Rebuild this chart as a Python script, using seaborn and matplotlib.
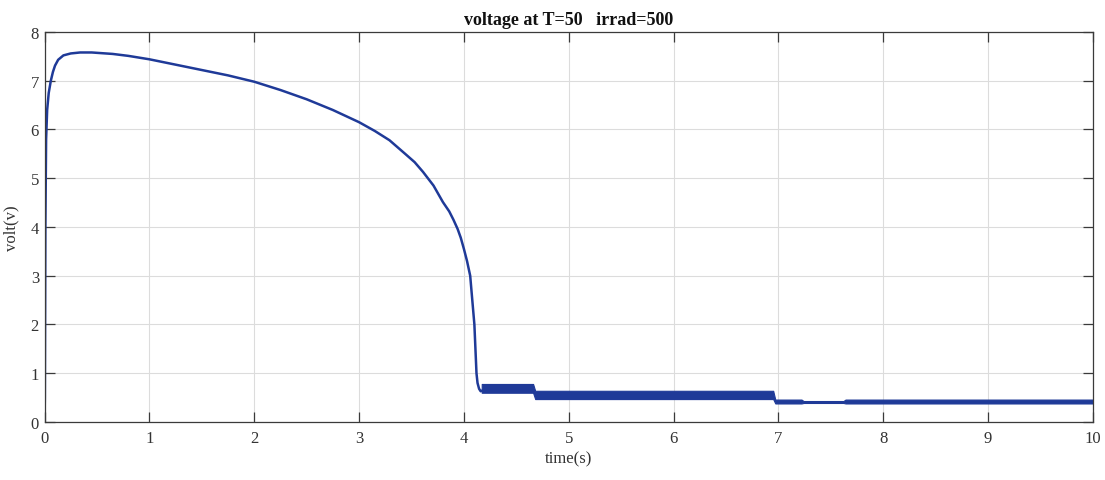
import numpy as np
import pandas as pd
import matplotlib
matplotlib.use("Agg")
import matplotlib.pyplot as plt
import seaborn as sns

# ---- data ----
time_s = [0.0, 0.003, 0.008, 0.015, 0.025, 0.04, 0.06, 0.08, 0.1, 0.13, 0.18,
          0.25, 0.34, 0.45, 0.65, 0.8, 1.0, 1.25, 1.5, 1.75, 2.0, 2.25, 2.5,
          2.75, 3.0, 3.15, 3.29, 3.44, 3.53, 3.61, 3.71, 3.8, 3.86, 3.9, 3.94,
          3.97, 4.0, 4.03, 4.06, 4.08, 4.1, 4.11, 4.12, 4.13, 4.145, 4.16, 4.19]
volt = [0.0, 0.5, 4.0, 5.8, 6.4, 6.75, 7.0, 7.18, 7.31, 7.43, 7.52,
        7.56, 7.58, 7.58, 7.55, 7.51, 7.44, 7.33, 7.22, 7.11, 6.98, 6.81, 6.62,
        6.40, 6.15, 5.97, 5.78, 5.50, 5.33, 5.13, 4.85, 4.51, 4.32, 4.15, 3.96,
        3.78, 3.55, 3.3, 3.0, 2.5, 2.0, 1.5, 1.0, 0.8, 0.68, 0.63, 0.66]

# ripple envelope of the noisy steady-state segments
band_t = [4.17, 4.66, 4.68, 6.95, 6.97, 7.22, 7.24, 7.62, 7.64, 10.0]
band_lo = [0.60, 0.60, 0.47, 0.47, 0.38, 0.38, 0.39, 0.39, 0.38, 0.38]
band_hi = [0.78, 0.78, 0.64, 0.64, 0.46, 0.46, 0.43, 0.43, 0.46, 0.46]

title = "voltage at T=50   irrad=500"
xlabel = "time(s)"
ylabel = "volt(v)"
xticks = [0, 1, 2, 3, 4, 5, 6, 7, 8, 9, 10]
yticks = [0, 1, 2, 3, 4, 5, 6, 7, 8]

sns.set_theme(style="whitegrid")
plt.rcParams['font.family'] = ['Liberation Serif', 'DejaVu Serif']

line_color = "#1f3a98"

fig = plt.figure(figsize=(11.05, 4.81), dpi=100)
ax = fig.add_axes([0.0403, 0.1206, 0.9488, 0.8108])

df = pd.DataFrame({"time": time_s, "volt": volt})
sns.lineplot(data=df, x="time", y="volt", ax=ax, color=line_color, lw=1.8)
ax.fill_between(band_t, band_lo, band_hi, color=line_color, lw=0.8,
                edgecolor=line_color)

ax.set_xlim(0, 10)
ax.set_ylim(0, 8)
ax.set_xticks(xticks)
ax.set_yticks(yticks)
ax.set_xticklabels([str(v) for v in xticks])
ax.set_yticklabels([str(v) for v in yticks])

ax.grid(True, color="#dcdcdc", lw=0.8)
for s in ax.spines.values():
    s.set_visible(True)
    s.set_color("#3a3a3a")
    s.set_linewidth(0.9)

ax.tick_params(axis="both", which="both", direction="in", length=7, width=0.9,
               color="#3a3a3a", labelsize=12, labelcolor="#333333",
               top=True, right=True, bottom=True, left=True)
ax.tick_params(axis="x", pad=6)
ax.tick_params(axis="y", pad=4)

ax.set_title(title, fontsize=13, fontweight="bold", pad=6, color="#111111")
ax.set_xlabel(xlabel, fontsize=12, labelpad=3, color="#333333")
ax.set_ylabel(ylabel, fontsize=12, labelpad=8, color="#333333")

fig.savefig("out.png", dpi=100, facecolor="white")
